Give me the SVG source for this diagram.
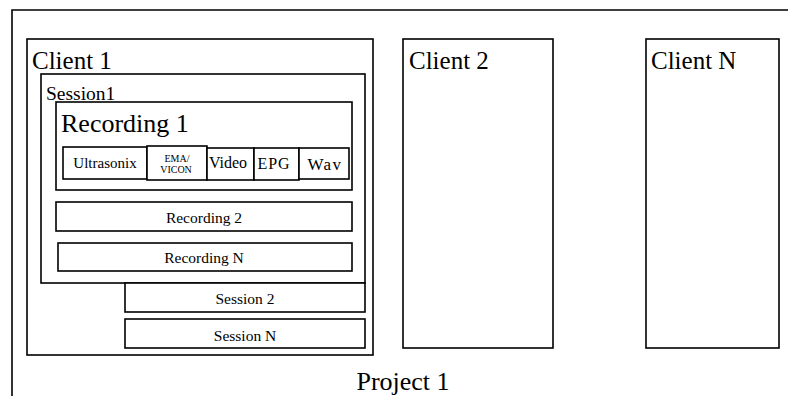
<svg xmlns="http://www.w3.org/2000/svg" width="788" height="396" viewBox="0 0 788 396">
<style>
rect{fill:#fff;stroke:#000;stroke-width:1.6}
text{font-family:"Liberation Serif","Times New Roman",serif;fill:#000}
.m{text-anchor:middle}
</style>
<rect x="0" y="0" width="788" height="396" style="stroke:none"/>
<g id="project1">
<path d="M12 396V10H790" fill="none" stroke="#000" stroke-width="1.6"/>
<text class="m" x="403" y="390" font-size="26">Project 1</text>
</g>
<g id="client1">
<rect x="27" y="39" width="346" height="316"/>
<text x="32" y="69" font-size="25">Client 1</text>
</g>
<g id="session1">
<rect x="41" y="74" width="324" height="209"/>
<text x="46" y="100" font-size="19.5">Session1</text>
</g>
<g id="recording1">
<rect x="56" y="102" width="296" height="88"/>
<text x="61" y="132" font-size="26">Recording 1</text>
</g>
<g id="ultrasonix">
<rect x="63" y="147" width="84" height="32"/>
<text class="m" x="105" y="168" font-size="15">Ultrasonix</text>
</g>
<g id="ema-vicon">
<rect x="147" y="146" width="60" height="34"/>
<text class="m" x="177" y="162" font-size="10">EMA/</text>
<text class="m" x="176" y="173" font-size="10">VICON</text>
</g>
<g id="video">
<rect x="207" y="148" width="47" height="32"/>
<text class="m" x="228" y="168" font-size="16">Video</text>
</g>
<g id="epg">
<rect x="254" y="148" width="45" height="32"/>
<text class="m" x="274" y="169" font-size="16" letter-spacing="1">EPG</text>
</g>
<g id="wav">
<rect x="299" y="148" width="50" height="31"/>
<text class="m" x="325" y="170" font-size="17" letter-spacing="1.5">Wav</text>
</g>
<g id="recording2">
<rect x="56" y="202" width="296" height="29"/>
<text class="m" x="204" y="223" font-size="15.5">Recording 2</text>
</g>
<g id="recordingN">
<rect x="58" y="243" width="294" height="28"/>
<text class="m" x="204" y="263" font-size="15.5">Recording N</text>
</g>
<g id="session2">
<rect x="125" y="283" width="240" height="29"/>
<text class="m" x="245" y="304" font-size="15.5">Session 2</text>
</g>
<g id="sessionN">
<rect x="125" y="319" width="240" height="29"/>
<text class="m" x="245" y="341" font-size="15.5">Session N</text>
</g>
<g id="client2">
<rect x="403" y="39" width="150" height="309"/>
<text x="409" y="69" font-size="25">Client 2</text>
</g>
<g id="clientN">
<rect x="646" y="39" width="133" height="309"/>
<text x="651" y="69" font-size="25">Client N</text>
</g>
<g id="connectors"/>
</svg>
